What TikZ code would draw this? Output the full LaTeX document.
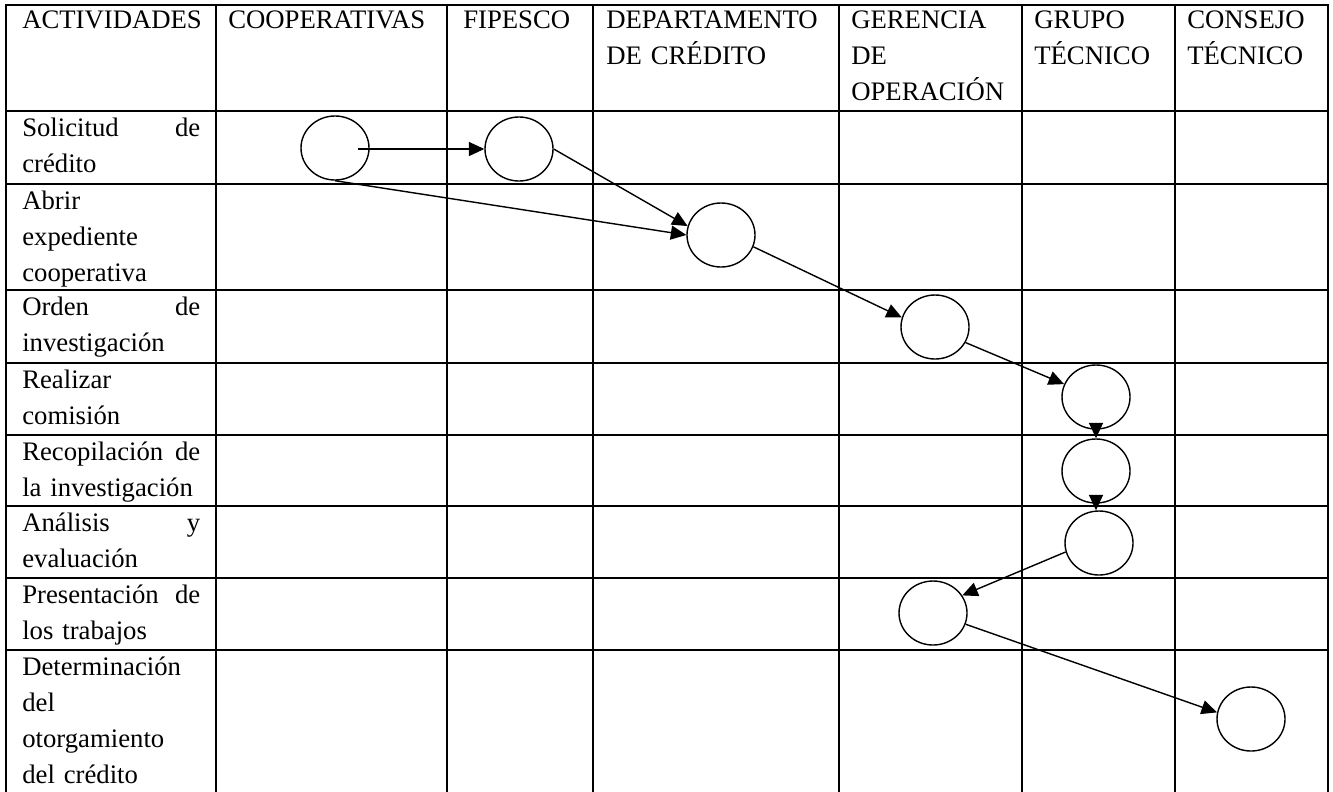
\documentclass[tikz,border=0pt]{standalone}
\usepackage{fontspec}
\setmainfont{Liberation Serif}
\usetikzlibrary{shapes.geometric}
\usetikzlibrary{arrows.meta}
\usetikzlibrary{positioning}

\begin{document}
\begin{tikzpicture}[x=0.025cm,y=-0.025cm,>={Triangle[length=11pt,width=10pt]},
	act node/.style={ellipse,draw,line width=1pt,minimum width=1.7cm,minimum height=1.6cm,inner sep=0pt},
	grid line/.style={line width=1.4pt,line cap=rect},
	cell/.style={anchor=base west,inner sep=0pt,align=left,text width=5.2cm,font=\fontsize{19}{25.6}\selectfont},
	label cell/.style={cell,text width=4.45cm}]
	
	\useasboundingbox (0,0) rectangle (1333,791);
	
	% tabla
	\foreach \y in {5,111,184,290,363,435,506,578,650}
		\draw[grid line] (6,\y) -- (1328,\y);
	\foreach \x in {6,216,447,593,839,1022,1175,1328}
		\draw[grid line] (\x,5) -- (\x,791);
	
	% encabezados
	\node[cell] (act) at (22,28) {ACTIVIDADES};
	\node[cell] (coop) at (228,28) {COOPERATIVAS};
	\node[cell] (fip) at (463,28) {FIPESCO};
	\node[cell] (dep) at (606,28) {DEPARTAMENTO\\DE CRÉDITO};
	\node[cell] (ger) at (851,28) {GERENCIA\\DE\\OPERACIÓN};
	\node[cell] (gru) at (1034,28) {GRUPO\\TÉCNICO};
	\node[cell] (con) at (1187,28) {CONSEJO\\TÉCNICO};
	
	% actividades
	\node[label cell] (r1) at (22,136) {Solicitud\hfill de\\crédito};
	\node[label cell] (r2) at (22,209) {Abrir\\expediente\\cooperativa};
	\node[label cell] (r3) at (22,315) {Orden\hfill de\\investigación};
	\node[label cell] (r4) at (22,388) {Realizar\\comisión};
	\node[label cell] (r5) at (22,460) {Recopilación\hfill de\\la investigación};
	\node[label cell] (r6) at (22,531) {Análisis\hfill y\\evaluación};
	\node[label cell] (r7) at (22,603) {Presentación\hfill de\\los trabajos};
	\node[label cell] (r8) at (22,675) {Determinación\\del\\otorgamiento\\del crédito};
	
	% flujo
	\node[act node] (c1) at (335,148) {};
	\node[act node] (c2) at (519,149) {};
	\node[act node] (c3) at (721,235) {};
	\node[act node] (c4) at (935,327) {};
	\node[act node] (c5) at (1096,397) {};
	\node[act node] (c6) at (1096,471) {};
	\node[act node] (c7) at (1099,543) {};
	\node[act node] (c8) at (933,613) {};
	\node[act node] (c9) at (1251,719) {};
	\coordinate (s1) at (358,149);
	
	\path[->,line width=1pt]
	(s1) edge (c2.west)
	(c1.south) edge (c3.west)
	(c2.east) edge (c3.165)
	(c3.-20) edge (c4.164)
	(c4.-27) edge (c5.158)
	(c5.south) edge (c6.north)
	(c6.south) edge (c6.south |- c7.north)
	(c7.195) edge (c8.31)
	(c8.-19) edge (c9.169);
\end{tikzpicture}
\end{document}
